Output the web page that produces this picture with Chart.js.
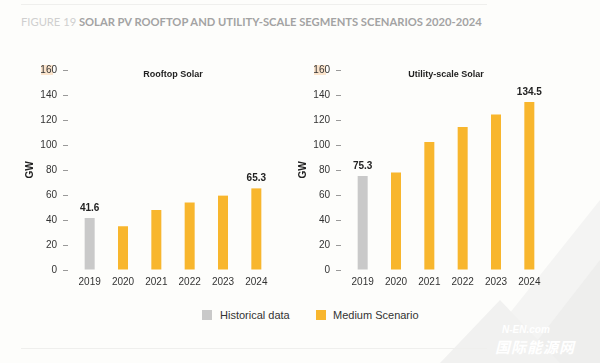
<!DOCTYPE html>
<html>
<head>
<meta charset="utf-8">
<script src="https://cdn.jsdelivr.net/npm/chart.js@4"></script>
<style>
  body { margin: 0; }
  #page { position: relative; width: 600px; height: 363px; background: #fdfdfb; overflow: hidden; font-family: "Liberation Sans", Arial, sans-serif; }
  #bg { position: absolute; left: 0; top: 0; }
  .rule { position: absolute; left: 21px; width: 466px; height: 1px; background: #efefed; }
  #head { position: absolute; left: 21px; top: 15px; font-family: Lato, sans-serif; font-weight: bold; font-size: 11.2px; letter-spacing: 0; color: #a3a3a3; white-space: nowrap; }
  #head span { color: #cfcfcf; font-weight: normal; }
  .wrap { position: absolute; top: 40px; width: 285px; height: 260px; }
  #legend { position: absolute; top: 309px; left: 0; width: 600px; height: 14px; font-size: 11px; color: #333; }
  .box { position: absolute; top: 1px; width: 10px; height: 10px; }
  .txt { position: absolute; top: 0; white-space: nowrap; }
  #wm1 { position: absolute; left: 502px; top: 324px; font: italic bold 10px "Liberation Sans", sans-serif; color: #fff; }
  #wm2 { position: absolute; left: 495px; top: 336px; font: italic bold 15px "Noto Sans CJK SC", sans-serif; color: #fff; letter-spacing: 1px; }
</style>
</head>
<body>
<div id="page">
  <svg id="bg" width="600" height="363">
    <polygon points="470,363 600,200 600,363" fill="#f4f4f3"/>
    <polygon points="520,363 600,260 600,363" fill="#eeeeed"/>
    <polygon points="440,363 500,300 560,363" fill="#f1f1f0"/>
  </svg>
  <div class="rule" style="top:4px"></div>
  <div class="rule" style="top:348px"></div>
  <div id="head"><span>FIGURE 19</span> SOLAR PV ROOFTOP AND UTILITY-SCALE SEGMENTS SCENARIOS 2020-2024</div>
  <div class="wrap" style="left:10px"><canvas id="rooftop"></canvas></div>
  <div class="wrap" style="left:283px"><canvas id="utility"></canvas></div>
  <div id="legend"></div>
  <div id="wm1">N-EN.com</div>
  <div id="wm2">国际能源网</div>
</div>
<script>
const years = ['2019', '2020', '2021', '2022', '2023', '2024'];
const rooftop = [41.6, 35, 48, 54, 59.5, 65.3];
const utility = [75.3, 78, 102.5, 114.5, 124.5, 134.5];
const labelled = [0, 5];
const seriesNames = ['Historical data', 'Medium Scenario'];
const seriesColors = ['#c9c9c9', '#f8b62d'];
const kind = [0, 1, 1, 1, 1, 1];
const yTicks = [0, 20, 40, 60, 80, 100, 120, 140, 160];

const font = "'Liberation Sans', Arial, sans-serif";

const extras = {
  id: 'extras',
  beforeDraw(chart) {
    const c = chart.ctx, y = chart.scales.y.getPixelForValue(160);
    c.save();
    c.fillStyle = '#fbe4cc';
    c.fillRect(31, y - 5, 12, 10);
    c.restore();
  },
  afterDatasetsDraw(chart, args, opts) {
    const c = chart.ctx, a = chart.chartArea;
    c.save();
    c.fillStyle = '#222';
    c.textAlign = 'center';
    c.textBaseline = 'middle';
    c.font = 'bold 9px ' + font;
    c.fillText(opts.title, (a.left + a.right) / 2, a.top + 5);
    c.font = 'bold 10px ' + font;
    const meta = chart.getDatasetMeta(0);
    labelled.forEach(i => {
      const bar = meta.data[i];
      c.fillText(chart.data.datasets[0].data[i].toFixed(1), bar.x, bar.y - 10);
    });
    c.restore();
  }
};

function makeChart(id, values, title) {
  new Chart(document.getElementById(id), {
    type: 'bar',
    data: {
      labels: years,
      datasets: [{
        data: values,
        backgroundColor: kind.map(k => seriesColors[k]),
        barPercentage: 0.3,
        categoryPercentage: 1
      }]
    },
    options: {
      responsive: true,
      maintainAspectRatio: false,
      animation: false,
      layout: { padding: { top: 30, right: 22, left: 0, bottom: 0 } },
      plugins: {
        legend: { display: false },
        tooltip: { enabled: false },
        extras: { title: title }
      },
      scales: {
        x: {
          grid: { display: false, drawTicks: false },
          border: { display: false },
          ticks: { color: '#333', font: { family: font, size: 10 }, padding: 6 },
          afterFit: s => { s.height = 30; }
        },
        y: {
          min: 0, max: 160,
          afterBuildTicks: s => { s.ticks = yTicks.map(v => ({ value: v })); },
          border: { display: false },
          grid: { drawOnChartArea: false, tickLength: 10, tickBorderDash: [5, 5], tickColor: '#999' },
          ticks: { color: '#333', font: { family: font, size: 10 }, padding: 6 },
          title: { display: true, text: 'GW', color: '#222', font: { family: font, size: 10, weight: 'bold' }, padding: { top: 14, bottom: 0 } },
          afterFit: s => { s.width = 63; }
        }
      }
    },
    plugins: [extras]
  });
}

makeChart('rooftop', rooftop, 'Rooftop Solar');
makeChart('utility', utility, 'Utility-scale Solar');

// legend
const lg = document.getElementById('legend');
const pos = [[202, 220], [316, 333]];
seriesNames.forEach((n, i) => {
  const b = document.createElement('div');
  b.className = 'box'; b.style.left = pos[i][0] + 'px'; b.style.background = seriesColors[i];
  const t = document.createElement('div');
  t.className = 'txt'; t.style.left = pos[i][1] + 'px'; t.textContent = n;
  lg.appendChild(b); lg.appendChild(t);
});
</script>
</body>
</html>
